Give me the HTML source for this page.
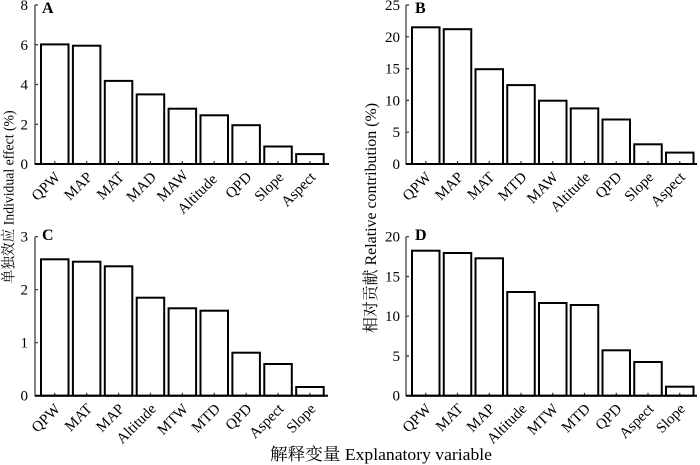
<!DOCTYPE html>
<html><head><meta charset="utf-8"><style>
html,body{margin:0;padding:0;background:#fff;}
svg{display:block;}
text{font-family:"Liberation Serif",serif;fill:#000;}
.cn{font-family:"Noto Serif CJK SC","Noto Sans CJK SC",serif;}
.lat{font-family:"Liberation Serif",serif;}
.t{font-size:15px;}
.xl{font-size:15px;}
.b{fill:#fff;stroke:#000;stroke-width:2;}
.ax{stroke:#333;stroke-width:1.2;fill:none;}
.lt{font-size:16px;font-weight:bold;}
</style></head><body>
<svg width="700" height="465" viewBox="0 0 700 465" xmlns="http://www.w3.org/2000/svg">
<!-- Panel A -->
<g>
<rect class="b" x="41" y="44.4" width="27.5" height="119.6"/>
<rect class="b" x="72.9" y="45.7" width="27.5" height="118.3"/>
<rect class="b" x="104.8" y="80.9" width="27.5" height="83.1"/>
<rect class="b" x="136.7" y="94.4" width="27.5" height="69.6"/>
<rect class="b" x="168.6" y="108.7" width="27.5" height="55.3"/>
<rect class="b" x="200.5" y="115.3" width="27.5" height="48.7"/>
<rect class="b" x="232.4" y="125.2" width="27.5" height="38.8"/>
<rect class="b" x="264.3" y="146.5" width="27.5" height="17.5"/>
<rect class="b" x="296.2" y="154.1" width="27.5" height="9.9"/>
<path class="ax" d="M35,5 V164 H329 M35,5 h3 M35,44.75 h3 M35,84.5 h3 M35,124.25 h3 M54.75,164 v-3 M86.65,164 v-3 M118.55,164 v-3 M150.45,164 v-3 M182.35,164 v-3 M214.25,164 v-3 M246.15,164 v-3 M278.05,164 v-3 M309.95,164 v-3"/>
<path d="M35,164 H329" stroke="#000" stroke-width="2"/>
<g class="t" text-anchor="end">
<text x="28" y="10">8</text><text x="28" y="49.75">6</text><text x="28" y="89.5">4</text><text x="28" y="129.25">2</text><text x="28" y="169">0</text>
</g>
<text class="lt" x="42" y="13">A</text>
<g class="xl" text-anchor="end">
<text transform="translate(61,178) rotate(-45)">QPW</text>
<text transform="translate(93,178) rotate(-45)">MAP</text>
<text transform="translate(125,178) rotate(-45)">MAT</text>
<text transform="translate(157,178) rotate(-45)">MAD</text>
<text transform="translate(189,176) rotate(-45)">MAW</text>
<text transform="translate(218,180) rotate(-45)">Altitude</text>
<text transform="translate(252.5,178) rotate(-45)">QPD</text>
<text transform="translate(284.5,178) rotate(-45)">Slope</text>
<text transform="translate(316.5,178) rotate(-45)">Aspect</text>
</g>
</g>
<!-- Panel B -->
<g>
<rect class="b" x="412" y="27.3" width="27.5" height="136.7"/>
<rect class="b" x="443.75" y="29.2" width="27.5" height="134.8"/>
<rect class="b" x="475.5" y="69.2" width="27.5" height="94.8"/>
<rect class="b" x="507.25" y="85.1" width="27.5" height="78.9"/>
<rect class="b" x="539" y="100.7" width="27.5" height="63.3"/>
<rect class="b" x="570.75" y="108.4" width="27.5" height="55.6"/>
<rect class="b" x="602.5" y="119.5" width="27.5" height="44.5"/>
<rect class="b" x="634.25" y="144.3" width="27.5" height="19.7"/>
<rect class="b" x="666" y="152.6" width="27.5" height="11.4"/>
<path class="ax" d="M406,5 V164 H697 M406,5 h3 M406,36.8 h3 M406,68.6 h3 M406,100.4 h3 M406,132.2 h3 M425.75,164 v-3 M457.5,164 v-3 M489.25,164 v-3 M521,164 v-3 M552.75,164 v-3 M584.5,164 v-3 M616.25,164 v-3 M648,164 v-3 M679.75,164 v-3"/>
<path d="M406,164 H697" stroke="#000" stroke-width="2"/>
<g class="t" text-anchor="end">
<text x="400" y="10">25</text><text x="400" y="41.8">20</text><text x="400" y="73.6">15</text><text x="400" y="105.4">10</text><text x="400" y="137.2">5</text><text x="400" y="169">0</text>
</g>
<text class="lt" x="415" y="13">B</text>
<g class="xl" text-anchor="end">
<text transform="translate(432,178) rotate(-45)">QPW</text>
<text transform="translate(464,178) rotate(-45)">MAP</text>
<text transform="translate(495.5,178) rotate(-45)">MAT</text>
<text transform="translate(527.5,178) rotate(-45)">MTD</text>
<text transform="translate(559,178) rotate(-45)">MAW</text>
<text transform="translate(591,178) rotate(-45)">Altitude</text>
<text transform="translate(622.5,178) rotate(-45)">QPD</text>
<text transform="translate(654.5,178) rotate(-45)">Slope</text>
<text transform="translate(686,178) rotate(-45)">Aspect</text>
</g>
</g>
<!-- Panel C -->
<g>
<rect class="b" x="41" y="259.3" width="27.5" height="136.4"/>
<rect class="b" x="72.9" y="261.7" width="27.5" height="134"/>
<rect class="b" x="104.8" y="266.3" width="27.5" height="129.4"/>
<rect class="b" x="136.7" y="297.7" width="27.5" height="98"/>
<rect class="b" x="168.6" y="308.3" width="27.5" height="87.4"/>
<rect class="b" x="200.5" y="310.7" width="27.5" height="85"/>
<rect class="b" x="232.4" y="352.7" width="27.5" height="43"/>
<rect class="b" x="264.3" y="364" width="27.5" height="31.7"/>
<rect class="b" x="296.2" y="387" width="27.5" height="8.7"/>
<path class="ax" d="M35,236.7 V395.7 H328 M35,236.7 h3 M35,289.7 h3 M35,342.7 h3 M54.75,395.7 v-3 M86.65,395.7 v-3 M118.55,395.7 v-3 M150.45,395.7 v-3 M182.35,395.7 v-3 M214.25,395.7 v-3 M246.15,395.7 v-3 M278.05,395.7 v-3 M309.95,395.7 v-3"/>
<path d="M35,395.7 H328" stroke="#000" stroke-width="2"/>
<g class="t" text-anchor="end">
<text x="28" y="241.7">3</text><text x="28" y="294.7">2</text><text x="28" y="347.7">1</text><text x="28" y="400.7">0</text>
</g>
<text class="lt" x="42" y="240">C</text>
<g class="xl" text-anchor="end">
<text transform="translate(61,409.7) rotate(-45)">QPW</text>
<text transform="translate(93,409.7) rotate(-45)">MAT</text>
<text transform="translate(125,409.7) rotate(-45)">MAP</text>
<text transform="translate(157,409.7) rotate(-45)">Altitude</text>
<text transform="translate(189,409.7) rotate(-45)">MTW</text>
<text transform="translate(221,409.7) rotate(-45)">MTD</text>
<text transform="translate(252.5,409.7) rotate(-45)">QPD</text>
<text transform="translate(284.5,409.7) rotate(-45)">Aspect</text>
<text transform="translate(316.5,409.7) rotate(-45)">Slope</text>
</g>
</g>
<!-- Panel D -->
<g>
<rect class="b" x="412" y="250.7" width="27.5" height="145"/>
<rect class="b" x="443.75" y="253" width="27.5" height="142.7"/>
<rect class="b" x="475.5" y="258.3" width="27.5" height="137.4"/>
<rect class="b" x="507.25" y="292" width="27.5" height="103.7"/>
<rect class="b" x="539" y="303" width="27.5" height="92.7"/>
<rect class="b" x="570.75" y="305" width="27.5" height="90.7"/>
<rect class="b" x="602.5" y="350.3" width="27.5" height="45.4"/>
<rect class="b" x="634.25" y="362" width="27.5" height="33.7"/>
<rect class="b" x="666" y="386.7" width="27.5" height="9"/>
<path class="ax" d="M406,236.7 V395.7 H697 M406,236.7 h3 M406,276.5 h3 M406,316.2 h3 M406,356 h3 M425.75,395.7 v-3 M457.5,395.7 v-3 M489.25,395.7 v-3 M521,395.7 v-3 M552.75,395.7 v-3 M584.5,395.7 v-3 M616.25,395.7 v-3 M648,395.7 v-3 M679.75,395.7 v-3"/>
<path d="M406,395.7 H697" stroke="#000" stroke-width="2"/>
<g class="t" text-anchor="end">
<text x="400" y="241.7">20</text><text x="400" y="281.5">15</text><text x="400" y="321.2">10</text><text x="400" y="361">5</text><text x="400" y="400.7">0</text>
</g>
<text class="lt" x="415" y="240">D</text>
<g class="xl" text-anchor="end">
<text transform="translate(432,409.7) rotate(-45)">QPW</text>
<text transform="translate(464,409.7) rotate(-45)">MAT</text>
<text transform="translate(495.5,409.7) rotate(-45)">MAP</text>
<text transform="translate(527.5,409.7) rotate(-45)">Altitude</text>
<text transform="translate(559,409.7) rotate(-45)">MTW</text>
<text transform="translate(591,409.7) rotate(-45)">MTD</text>
<text transform="translate(622.5,409.7) rotate(-45)">QPD</text>
<text transform="translate(654.5,409.7) rotate(-45)">Aspect</text>
<text transform="translate(686,409.7) rotate(-45)">Slope</text>
</g>
</g>
<!-- Axis titles -->
<text transform="translate(13.5,197) rotate(-90)" text-anchor="middle" font-size="14.5" textLength="173" lengthAdjust="spacingAndGlyphs"><tspan class="cn">单独效应</tspan><tspan class="lat"> Individual effect (%)</tspan></text>
<text transform="translate(376,218) rotate(-90)" text-anchor="middle" font-size="16" textLength="230" lengthAdjust="spacingAndGlyphs"><tspan class="cn">相对贡献</tspan><tspan class="lat"> Relative contribution (%)</tspan></text>
<text x="270" y="460" font-size="17" textLength="222" lengthAdjust="spacingAndGlyphs"><tspan class="cn">解释变量</tspan><tspan class="lat"> Explanatory variable</tspan></text>
</svg>
</body></html>
